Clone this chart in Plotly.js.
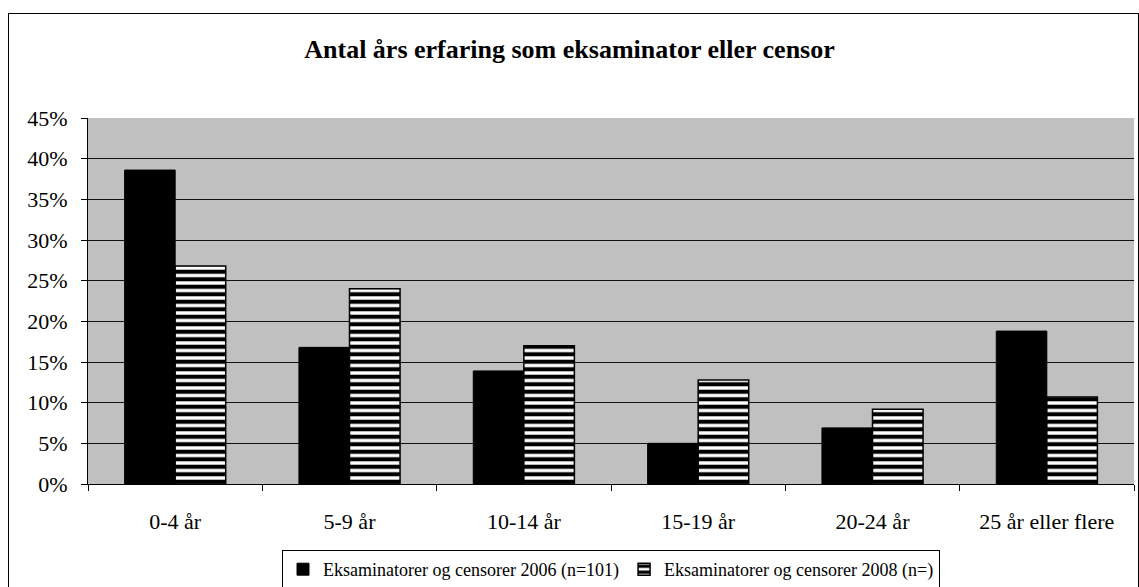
<!DOCTYPE html>
<html>
<head>
<meta charset="utf-8">
<script src="https://cdn.plot.ly/plotly-3.0.1.min.js"></script>
<style>
html,body{margin:0;padding:0;background:#fff;overflow:hidden;}
#chart{position:absolute;left:0;top:0;width:1139px;height:587px;}
#frame{position:absolute;left:8px;top:13px;width:1129px;height:600px;border:1px solid #000;pointer-events:none;}
</style>
</head>
<body>
<div id="chart"></div>
<div id="frame"></div>
<script>
const categories = ["0-4 år", "5-9 år", "10-14 år", "15-19 år", "20-24 år", "25 år eller flere"];
const values2006 = [0.386, 0.168, 0.139, 0.050, 0.069, 0.188];
const values2008 = [0.268, 0.240, 0.170, 0.128, 0.092, 0.107];
const seriesNames = ["Eksaminatorer og censorer 2006 (n=101)", "Eksaminatorer og censorer 2008 (n=)"];
const yTicks = [0, 0.05, 0.10, 0.15, 0.20, 0.25, 0.30, 0.35, 0.40, 0.45];
const yTickLabels = ["0%", "5%", "10%", "15%", "20%", "25%", "30%", "35%", "40%", "45%"];

const font = "'Liberation Serif', 'Times New Roman', serif";

const traces = [
  {
    type: "bar", x: categories, y: values2006, name: seriesNames[0],
    marker: {color: "#000", line: {color: "#000", width: 1}},
    hoverinfo: "skip"
  },
  {
    type: "bar", x: categories, y: values2008, name: seriesNames[1],
    marker: {
      color: "#fff",
      line: {color: "#000", width: 1.5},
      pattern: {shape: "-", fgcolor: "#000", bgcolor: "#fff", size: 7.5, solidity: 0.55, fillmode: "replace"}
    },
    hoverinfo: "skip"
  }
];

const layout = {
  width: 1139, height: 587,
  margin: {l: 88, r: 5, t: 118, b: 103, autoexpand: false},
  paper_bgcolor: "#fff",
  plot_bgcolor: "#c0c0c0",
  font: {family: font, size: 18, color: "#000"},
  title: {
    text: "<b>Antal års erfaring som eksaminator eller censor</b>",
    font: {family: font, size: 26, color: "#000"},
    x: 0.5, xanchor: "center", y: 1 - 49/587, yanchor: "middle", yref: "container"
  },
  barmode: "group",
  bargap: 0.42,
  bargroupgap: 0,
  showlegend: true,
  legend: {
    orientation: "h",
    x: 0.5, xanchor: "center",
    yref: "container", y: 1 - 550/587, yanchor: "top",
    bgcolor: "#fff", bordercolor: "#000", borderwidth: 1,
    font: {family: font, size: 18, color: "#000"},
    itemwidth: 30, tracegroupgap: 0
  },
  xaxis: {
    type: "category",
    automargin: false,
    showline: true, linecolor: "#000", linewidth: 1,
    ticks: "outside", tickson: "boundaries", ticklen: 6, tickcolor: "#000",
    showgrid: false, zeroline: false,
    ticklabelstandoff: 18,
    tickfont: {family: font, size: 22, color: "#000"},
    fixedrange: true
  },
  yaxis: {
    range: [0, 0.45],
    automargin: false,
    tickvals: yTicks, ticktext: yTickLabels,
    showline: true, linecolor: "#000", linewidth: 1,
    ticks: "outside", ticklen: 6, tickcolor: "#000",
    showgrid: true, gridcolor: "#111", gridwidth: 1,
    zeroline: false,
    ticklabelstandoff: 9,
    tickfont: {family: font, size: 22, color: "#000"},
    fixedrange: true
  }
};

Plotly.newPlot("chart", traces, layout, {displayModeBar: false, staticPlot: true});
</script>
</body>
</html>
